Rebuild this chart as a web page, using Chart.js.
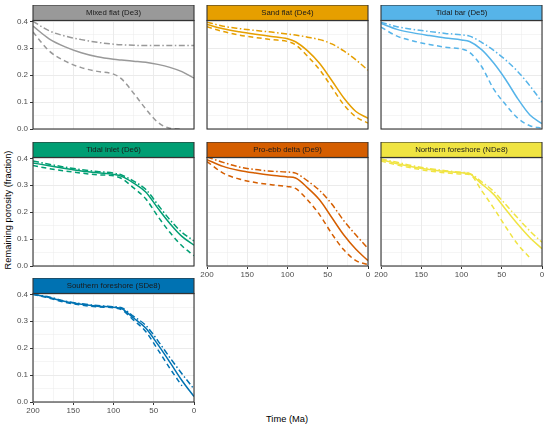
<!DOCTYPE html>
<html>
<head>
<meta charset="utf-8">
<script src="https://cdn.jsdelivr.net/npm/chart.js@4.4.1/dist/chart.umd.min.js"></script>
<style>
body{margin:0;background:#fff;width:550px;height:428px;position:relative;overflow:hidden;font-family:"Liberation Sans",Arial,sans-serif}
canvas{position:absolute}
.title{position:absolute;color:#000;font-size:9.3px;white-space:nowrap}
</style>
</head>
<body>
<div class="title" style="left:237px;width:100px;top:414px;text-align:center">Time (Ma)</div>
<div class="title" style="left:-57px;width:130px;top:205px;text-align:center;transform:rotate(-90deg)">Remaining porosity (fraction)</div>
<script>
// DATA
const T = [200, 180, 160, 140, 120, 100, 90, 75, 60, 45, 30, 15, 0];
const X_TICKS = [0, 25, 50, 75, 100, 125, 150, 175, 200];
const Y_TICKS = [0, 0.05, 0.1, 0.15, 0.2, 0.25, 0.3, 0.35, 0.4];
const PANELS = ['Mixed flat (De3)', 'Sand flat (De4)', 'Tidal bar (De5)', 'Tidal inlet (De6)',
                'Pro-ebb delta (De9)', 'Northern foreshore (NDe8)', 'Southern foreshore (SDe8)'];

// solid / dashed / dot-dash per facies
const de3Solid   = [0.382, 0.335, 0.305, 0.283, 0.268, 0.259, 0.256, 0.252, 0.248, 0.240, 0.229, 0.213, 0.189];
const de3Dashed  = [0.360, 0.290, 0.252, 0.228, 0.214, 0.204, 0.186, 0.133, 0.075, 0.025, 0.003, 0.000, null];
const de3DotDash = [0.400, 0.365, 0.345, 0.332, 0.322, 0.315, 0.313, 0.311, 0.310, 0.310, 0.310, 0.310, 0.310];

const de4Solid   = [0.388, 0.372, 0.361, 0.352, 0.344, 0.335, 0.324, 0.290, 0.243, 0.180, 0.115, 0.065, 0.040];
const de4Dashed  = [0.380, 0.362, 0.349, 0.340, 0.332, 0.325, 0.313, 0.270, 0.220, 0.155, 0.090, 0.045, 0.022];
const de4DotDash = [0.397, 0.382, 0.373, 0.366, 0.360, 0.353, 0.349, 0.341, 0.332, 0.316, 0.290, 0.257, 0.218];

const de5Solid   = [0.392, 0.370, 0.357, 0.347, 0.338, 0.331, 0.325, 0.295, 0.245, 0.183, 0.112, 0.052, 0.020];
const de5Dashed  = [0.378, 0.345, 0.327, 0.314, 0.304, 0.297, 0.285, 0.232, 0.148, 0.090, 0.040, 0.012, 0.003];
const de5DotDash = [0.397, 0.380, 0.370, 0.362, 0.355, 0.350, 0.345, 0.322, 0.292, 0.256, 0.213, 0.160, 0.100];

const de6Solid   = [0.383, 0.372, 0.362, 0.353, 0.346, 0.340, 0.333, 0.308, 0.275, 0.215, 0.158, 0.110, 0.077];
const de6Dashed  = [0.373, 0.362, 0.353, 0.345, 0.339, 0.335, 0.325, 0.290, 0.250, 0.185, 0.125, 0.075, 0.038];
const de6DotDash = [0.390, 0.378, 0.367, 0.358, 0.351, 0.345, 0.338, 0.315, 0.285, 0.228, 0.172, 0.125, 0.093];

const de9Solid   = [0.395, 0.370, 0.355, 0.345, 0.337, 0.331, 0.327, 0.290, 0.245, 0.180, 0.115, 0.062, 0.020];
const de9Dashed  = [0.388, 0.345, 0.323, 0.310, 0.302, 0.295, 0.288, 0.245, 0.190, 0.120, 0.060, 0.020, 0.005];
const de9DotDash = [0.405, 0.385, 0.368, 0.358, 0.352, 0.349, 0.345, 0.316, 0.280, 0.230, 0.168, 0.115, 0.065];

const nde8Solid   = [0.395, 0.380, 0.368, 0.358, 0.351, 0.346, 0.342, 0.305, 0.266, 0.210, 0.155, 0.105, 0.064];
const nde8Dashed  = [0.390, 0.375, 0.363, 0.353, 0.346, 0.342, 0.340, 0.280, 0.215, 0.145, 0.080, 0.030, null];
const nde8DotDash = [0.398, 0.385, 0.372, 0.362, 0.354, 0.348, 0.344, 0.313, 0.277, 0.228, 0.178, 0.130, 0.088];

const sde8Solid   = [0.400, 0.388, 0.373, 0.363, 0.356, 0.352, 0.347, 0.312, 0.275, 0.214, 0.148, 0.080, 0.020];
const sde8Dashed  = [0.400, 0.386, 0.370, 0.360, 0.353, 0.350, 0.343, 0.304, 0.262, 0.195, 0.125, 0.060, null];
const sde8DotDash = [0.400, 0.390, 0.375, 0.365, 0.358, 0.354, 0.350, 0.318, 0.285, 0.228, 0.165, 0.105, 0.048];

const SERIES = [
  [de3Solid, de3Dashed, de3DotDash],
  [de4Solid, de4Dashed, de4DotDash],
  [de5Solid, de5Dashed, de5DotDash],
  [de6Solid, de6Dashed, de6DotDash],
  [de9Solid, de9Dashed, de9DotDash],
  [nde8Solid, nde8Dashed, nde8DotDash],
  [sde8Solid, sde8Dashed, sde8DotDash]
];

// STYLE / LAYOUT
const COLORS = ['#999999', '#E69F00', '#56B4E9', '#009E73', '#D55E00', '#F0E442', '#0072B2'];
const DASHES = [[], [5, 3.5], [6, 2.5, 1.5, 2.5]];
const COL_LEFT = [32.5, 206.5, 380.5];
const ROW_TOP = [20, 157, 293];
const PLOT_W = 161, PLOT_H = 109, STRIP_H = 15.5;
const Y_SPACE = 33, X_SPACE = 16, RIGHT_PAD = 6;
const FONT = '"Liberation Sans", Arial, sans-serif';

// strip on top of every panel + panel border
const stripPlugin = {
  id: 'strip',
  afterDraw(chart, args, opts) {
    const a = chart.chartArea, ctx = chart.ctx;
    ctx.save();
    ctx.fillStyle = opts.color;
    ctx.fillRect(a.left, a.top - STRIP_H, a.right - a.left, STRIP_H);
    ctx.strokeStyle = '#333333';
    ctx.lineWidth = 1.1;
    ctx.strokeRect(a.left, a.top - STRIP_H, a.right - a.left, STRIP_H);
    ctx.strokeRect(a.left, a.top, a.right - a.left, a.bottom - a.top);
    ctx.fillStyle = '#1A1A1A';
    ctx.font = '7.8px ' + FONT;
    ctx.textAlign = 'center';
    ctx.textBaseline = 'middle';
    ctx.fillText(opts.text, (a.left + a.right) / 2, a.top - STRIP_H / 2 + 0.5);
    ctx.restore();
  }
};

function isMajor(v, step) { return Math.abs(v / step - Math.round(v / step)) < 1e-6; }

function makePanel(i, col, row, showX, showY) {
  const can = document.createElement('canvas');
  const w = Y_SPACE + PLOT_W + RIGHT_PAD;
  const h = STRIP_H + PLOT_H + X_SPACE;
  can.style.left = (COL_LEFT[col] - Y_SPACE) + 'px';
  can.style.top = (ROW_TOP[row] - STRIP_H) + 'px';
  can.style.width = w + 'px';
  can.style.height = h + 'px';
  document.body.appendChild(can);

  const datasets = SERIES[i].map((vals, k) => ({
    data: T.map((t, j) => ({ x: t, y: vals[j] })),
    borderColor: COLORS[i],
    borderWidth: 1.5,
    borderDash: DASHES[k],
    pointRadius: 0,
    fill: false,
    cubicInterpolationMode: 'monotone',
    spanGaps: false
  }));

  new Chart(can, {
    type: 'line',
    data: { datasets },
    plugins: [stripPlugin],
    options: {
      responsive: false,
      animation: false,
      events: [],
      layout: { padding: { top: STRIP_H, right: RIGHT_PAD, left: 0, bottom: 0 } },
      plugins: {
        legend: { display: false },
        tooltip: { enabled: false },
        strip: { text: PANELS[i], color: COLORS[i] }
      },
      scales: {
        x: {
          type: 'linear', reverse: true, min: 0, max: 200,
          afterBuildTicks: s => { s.ticks = X_TICKS.map(v => ({ value: v })); },
          afterFit: s => { s.height = X_SPACE; },
          border: { display: false },
          grid: {
            color: '#EBEBEB',
            lineWidth: c => isMajor(c.tick.value, 50) ? 1 : 0.5,
            drawTicks: showX, tickLength: 3,
            tickColor: c => isMajor(c.tick.value, 50) ? '#333333' : 'rgba(0,0,0,0)'
          },
          ticks: {
            display: showX, padding: 1, maxRotation: 0, autoSkip: false,
            color: '#4D4D4D', font: { family: FONT, size: 8 },
            callback: v => isMajor(v, 50) ? String(v) : ''
          }
        },
        y: {
          min: 0, max: 0.403,
          afterBuildTicks: s => { s.ticks = Y_TICKS.map(v => ({ value: v })); },
          afterFit: s => { s.width = Y_SPACE; },
          border: { display: false },
          grid: {
            color: '#EBEBEB',
            lineWidth: c => isMajor(c.tick.value, 0.1) ? 1 : 0.5,
            drawTicks: showY, tickLength: 3,
            tickColor: c => isMajor(c.tick.value, 0.1) ? '#333333' : 'rgba(0,0,0,0)'
          },
          ticks: {
            display: showY, padding: 2, autoSkip: false,
            color: '#4D4D4D', font: { family: FONT, size: 8 },
            callback: v => isMajor(v, 0.1) ? v.toFixed(1) : ''
          }
        }
      }
    }
  });
}

// 3 x 3 facet grid, 7 panels
for (let i = 0; i < PANELS.length; i++) {
  const col = i % 3, row = Math.floor(i / 3);
  const showX = (row === 1 && col > 0) || row === 2;
  makePanel(i, col, row, showX, col === 0);
}
</script>
</body>
</html>
